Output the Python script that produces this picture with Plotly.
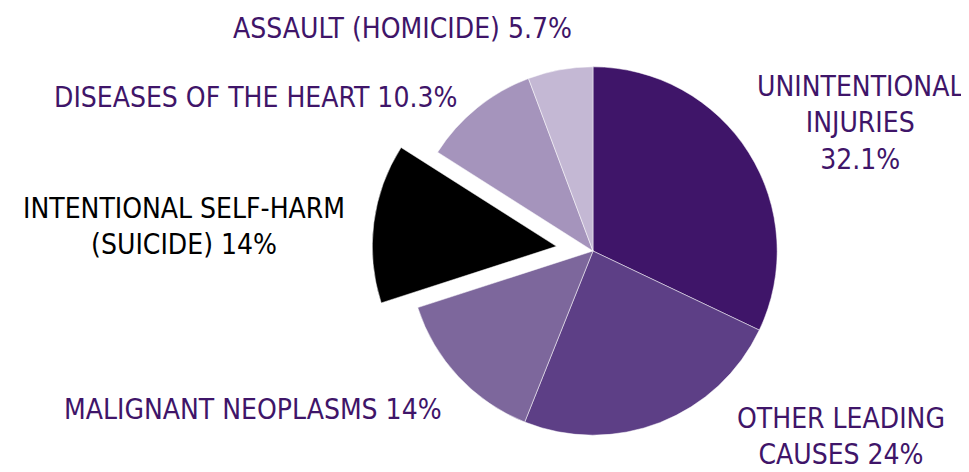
import plotly.graph_objects as go

labels = ["UNINTENTIONAL<br>INJURIES", "OTHER LEADING<br>CAUSES", "MALIGNANT NEOPLASMS",
          "INTENTIONAL SELF-HARM<br>(SUICIDE)", "DISEASES OF THE HEART", "ASSAULT (HOMICIDE)"]
values = [32.1, 24, 14, 14, 10.3, 5.7]
value_text = ["<br>32.1%", " 24%", " 14%", " 14%", " 10.3%", " 5.7%"]
colors = ["#3f1569", "#5d3f86", "#7d679c", "#000000", "#a594bc", "#c4b8d4"]
pulls = [0, 0, 0, 0.2, 0, 0]

FONT = "Liberation Sans Narrow, DejaVu Sans Condensed, Arial Narrow, sans-serif"
W, H = 969, 472

fig = go.Figure(go.Pie(
    labels=labels, values=values, sort=False, direction="clockwise", rotation=0,
    marker=dict(colors=colors, line=dict(color="white", width=0.5)),
    pull=pulls, textinfo="none", hoverinfo="label+percent", showlegend=False,
    domain=dict(x=[364 / W, 806 / W], y=[8 / H, 450 / H]),
))

# label positions (pixel centers)
pos = [(852, 115.5), (833, 428), (245, 401), (175.5, 218), (248, 90), (394.5, 20)]
for i, (lab, vt) in enumerate(zip(labels, value_text)):
    x, y = pos[i]
    fig.add_annotation(
        x=x / W, y=1 - y / H, xref="paper", yref="paper",
        text=lab + vt, showarrow=False, xanchor="center", yanchor="middle",
        align="center",
        font=dict(family=FONT, size=28, color="#000000" if i == 3 else "#3f1569"),
    )

fig.update_layout(
    width=W, height=H, margin=dict(l=0, r=0, t=0, b=0),
    paper_bgcolor="white", plot_bgcolor="white",
)
fig.write_html("out.html")
